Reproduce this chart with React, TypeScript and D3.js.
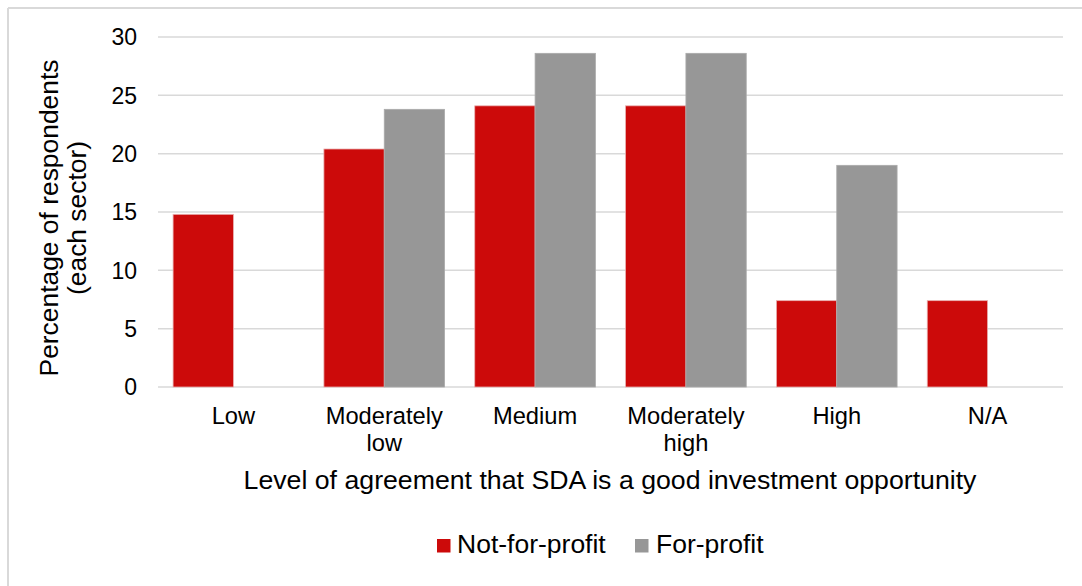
import React, { useRef, useEffect } from 'react';
import * as d3 from 'd3';

const categories = ['Low', 'Moderately low', 'Medium', 'Moderately high', 'High', 'N/A'];
const categoryLines = [['Low'], ['Moderately', 'low'], ['Medium'], ['Moderately', 'high'], ['High'], ['N/A']];
const notForProfit = [14.8, 20.4, 24.1, 24.1, 7.4, 7.4];
const forProfit = [0, 23.8, 28.6, 28.6, 19.0, 0];
const seriesNames = ['Not-for-profit', 'For-profit'];
const seriesColors = ['#cc0a0a', '#979797'];
const yTicks = [0, 5, 10, 15, 20, 25, 30];

const App = () => {
  const svgRef = useRef(null);
  const width = 1082;
  const height = 586;
  const left = 158;
  const right = 1063;
  const top = 37;
  const bottom = 387;

  useEffect(() => {
    const svg = d3.select(svgRef.current);
    svg.selectAll('*').remove();
    const font = 'Liberation Sans, Arial, sans-serif';

    // frame (left and top edges only visible)
    svg.append('line').attr('x1', 8).attr('x2', 8).attr('y1', 8).attr('y2', height)
      .attr('stroke', '#d9d9d9').attr('stroke-width', 2);
    svg.append('line').attr('x1', 8).attr('x2', width).attr('y1', 8).attr('y2', 8)
      .attr('stroke', '#d9d9d9').attr('stroke-width', 2);

    const x = d3.scaleBand().domain(categories).range([left, right]).paddingInner(0.2).paddingOuter(0.1);
    const xs = d3.scaleBand().domain(seriesNames).range([0, x.bandwidth()]);
    const y = d3.scaleLinear().domain([0, 30]).range([bottom, top]);

    // gridlines
    svg.append('g').selectAll('line').data(yTicks).join('line')
      .attr('x1', left).attr('x2', right)
      .attr('y1', d => y(d)).attr('y2', d => y(d))
      .attr('stroke', '#d9d9d9').attr('stroke-width', 1.5);

    // tick labels
    svg.append('g').selectAll('text').data(yTicks).join('text')
      .attr('x', 137).attr('y', d => y(d)).attr('dy', '0.36em')
      .attr('text-anchor', 'end').attr('font-family', font).attr('font-size', 23)
      .attr('fill', '#000').text(d => d);

    // bars
    const series = [notForProfit, forProfit];
    series.forEach((vals, si) => {
      svg.append('g').selectAll('rect').data(vals).join('rect')
        .attr('x', (d, i) => x(categories[i]) + xs(seriesNames[si]))
        .attr('width', xs.bandwidth())
        .attr('y', d => y(d))
        .attr('height', d => y(0) - y(d))
        .attr('fill', seriesColors[si])
        .attr('stroke', d => d > 0 ? (si === 0 ? '#e8b0b0' : '#ababab') : 'none')
        .attr('stroke-width', 0.8);
    });

    // category labels
    const cat = svg.append('g');
    categories.forEach((c, i) => {
      const t = cat.append('text')
        .attr('x', x(c) + x.bandwidth() / 2)
        .attr('y', 424)
        .attr('text-anchor', 'middle').attr('font-family', font).attr('font-size', 23.7);
      categoryLines[i].forEach((line, li) => {
        t.append('tspan').attr('x', x(c) + x.bandwidth() / 2).attr('dy', li === 0 ? 0 : 26.5).text(line);
      });
    });

    // x axis title
    svg.append('text').attr('x', 610).attr('y', 489)
      .attr('text-anchor', 'middle').attr('font-family', font).attr('font-size', 26.7)
      .text('Level of agreement that SDA is a good investment opportunity');

    // y axis title
    const yt = svg.append('text').attr('transform', 'translate(0,218) rotate(-90)')
      .attr('text-anchor', 'middle').attr('font-family', font).attr('font-size', 26.4);
    yt.append('tspan').attr('x', 0).attr('y', 58).text('Percentage of respondents');
    yt.append('tspan').attr('x', 0).attr('y', 86).text('(each sector)');

    // legend
    const legend = [
      { name: seriesNames[0], color: seriesColors[0], sx: 437, tx: 457 },
      { name: seriesNames[1], color: seriesColors[1], sx: 635, tx: 656 },
    ];
    const lg = svg.append('g');
    legend.forEach(l => {
      lg.append('rect').attr('x', l.sx).attr('y', 539).attr('width', 13.5).attr('height', 13.5).attr('fill', l.color);
      lg.append('text').attr('x', l.tx).attr('y', 553).attr('font-family', font).attr('font-size', 26.5).text(l.name);
    });
  }, []);

  return (
    <svg ref={svgRef} width={width} height={height}
      style={{ position: 'absolute', left: 0, top: 0, background: '#fff' }} />
  );
};

export default App;
